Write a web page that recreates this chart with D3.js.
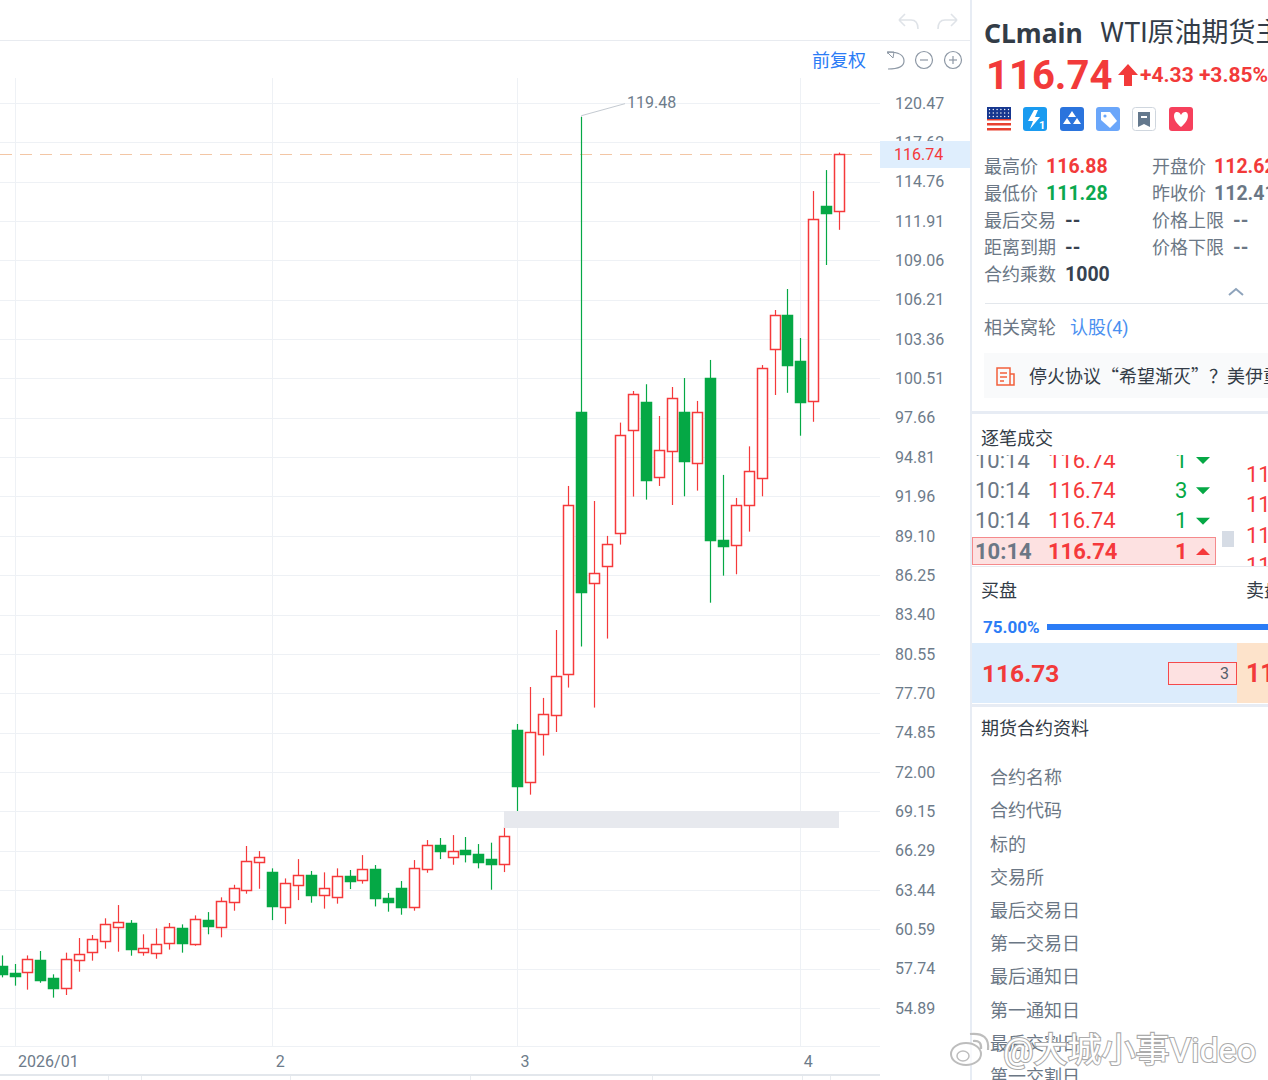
<!DOCTYPE html>
<html>
<head>
<meta charset="utf-8">
<script src="https://cdn.jsdelivr.net/npm/d3@7"></script>
<style>
  html, body { margin: 0; padding: 0; background: #fff; overflow: hidden; }
  svg { display: block; font-family: Roboto, "Noto Sans CJK SC", sans-serif; }
  svg text { font-family: Roboto, "Noto Sans CJK SC", sans-serif; }
</style>
</head>
<body>
<div id="chart"></div>
<script>
// Daily candles, oldest first
var opens = [57.96,57.40,57.47,58.37,57.06,56.39,58.41,58.95,59.72,60.76,61.05,58.95,58.90,59.55,60.71,59.57,61.24,60.76,62.54,63.49,65.47,
  64.72,62.23,63.78,64.53,63.05,62.96,64.45,64.14,64.96,62.83,63.56,62.16,64.94,66.72,65.88,66.34,66.07,65.68,65.32,
  75.04,71.24,74.75,76.12,79.07,98.06,85.71,86.87,89.29,96.73,98.81,93.40,95.23,98.08,94.43,100.54,88.78,88.44,91.37,93.27,102.59,105.10,101.77,98.92,113.00,112.62];
var highs = [58.70,58.08,58.70,59.02,57.33,58.90,59.96,60.18,61.39,62.35,61.26,60.23,60.66,61.05,60.95,61.60,61.84,62.91,63.82,66.63,66.26,
  65.01,64.28,65.68,64.82,64.72,65.01,64.89,65.97,65.25,63.22,64.09,65.61,67.06,67.21,67.42,67.28,66.77,66.87,68.00,
  75.47,78.15,77.36,82.28,92.72,119.48,91.63,89.10,97.31,99.60,100.09,97.79,99.89,100.54,98.88,101.85,93.52,91.85,95.59,101.48,105.47,106.99,103.44,114.09,115.61,116.88];
var lows = [57.11,56.51,56.22,56.72,55.64,55.83,57.52,58.32,59.19,58.97,58.68,58.68,58.46,59.12,58.90,59.40,60.23,60.01,61.94,63.17,63.53,
  61.26,60.97,62.71,62.52,62.09,62.45,63.51,63.90,62.25,61.87,61.65,61.94,64.69,65.68,65.27,65.44,65.01,63.46,64.74,
  69.05,70.35,73.18,74.89,78.11,81.08,76.66,81.66,88.47,91.95,91.73,92.72,91.34,91.97,92.38,84.26,86.22,86.32,89.41,91.97,99.31,99.47,96.36,97.37,108.73,111.28];
var closes = [57.35,57.16,58.44,56.89,56.36,58.46,58.82,59.91,60.95,61.10,59.16,59.26,59.55,60.73,59.60,61.36,60.78,62.64,63.58,65.56,65.81,
  62.25,63.97,64.50,63.10,63.58,64.45,64.11,64.96,62.88,62.52,62.16,65.01,66.70,66.29,66.29,66.07,65.49,65.35,67.38,
  70.98,74.87,76.20,78.93,91.32,85.04,86.44,88.49,96.41,99.36,93.18,95.35,99.10,94.55,98.11,88.78,88.32,91.32,93.83,101.27,105.08,101.50,98.82,112.08,112.52,116.74];

var priceTicks = [120.47,117.62,114.76,111.91,109.06,106.21,103.36,100.51,97.66,94.81,91.96,89.10,86.25,83.40,80.55,77.70,74.85,72.00,69.15,66.29,63.44,60.59,57.74,54.89];
var dateIndexes = [1, 21, 40, 62];
var dateLabels = ["2026/01", "2", "3", "4"];
var lastPrice = 116.74;
var maxPrice = 119.48;

// Right hand panel texts
var infoLeftLabels = ["最高价", "最低价", "最后交易", "距离到期", "合约乘数"];
var infoLeftValues = ["116.88", "111.28", "--", "--", "1000"];
var infoLeftColors = ["#f23a3a", "#0aa84f", "#37424f", "#37424f", "#37424f"];
var infoRightLabels = ["开盘价", "昨收价", "价格上限", "价格下限"];
var infoRightValues = ["112.62", "112.41", "--", "--"];
var infoRightColors = ["#f23a3a", "#6b7785", "#6b7785", "#6b7785"];
var tradeTimes = ["10:14", "10:14", "10:14", "10:14"];
var tradePrices = ["116.74", "116.74", "116.74", "116.74"];
var tradeSizes = ["1", "3", "1", "1"];
var contractLabels = ["合约名称", "合约代码", "标的", "交易所", "最后交易日", "第一交易日", "最后通知日", "第一通知日", "最后交割日", "第一交割日"];

var red = "#f5393b", green = "#05a845", gridColor = "#eef1f5", axisGray = "#6d7b8a", panelGray = "#6b7785", dark = "#333c47", blue = "#2b7cf6", band = "#e7ecf4";

var svg = d3.select("#chart").append("svg").attr("width", 1268).attr("height", 1080);

var x = d3.scaleLinear().domain([0, 65]).range([1.7, 839]);
var y = d3.scaleLinear().domain([54.89, 120.47]).range([1008, 103]);

function txt(g, px, py, str, size, color, weight, anchor) {
  return g.append("text").attr("x", px).attr("y", py).attr("dy", size === 18 ? "0.4em" : "0.35em")
    .attr("font-size", size).attr("fill", color)
    .attr("font-weight", weight || 400).attr("text-anchor", anchor || "start").text(str);
}
function snap(v) { return Math.round(v) + 0.5; }

// Toolbar above the chart
var bar = svg.append("g");
bar.append("line").attr("x1", 0).attr("x2", 970).attr("y1", 40.5).attr("y2", 40.5).attr("stroke", "#e8ebf0");
[[908, 1], [948, -1]].forEach(([cx, dir]) => {
  bar.append("path").attr("transform", "translate(" + cx + ",21) scale(" + dir + ",1)")
    .attr("d", "M-9,-1 L-3,-7 M-9,-1 L-3,5 M-9,-1 H3 Q10,-1 10,8")
    .attr("fill", "none").attr("stroke", "#dfe3e8").attr("stroke-width", 1.6);
});
txt(bar, 812, 60, "前复权", 18, "#2b7cf6");
bar.append("path").attr("d", "M888,54 L888,52 Q904,52 904,61 Q904,69 888,69").attr("fill", "none").attr("stroke", "#8d98a5").attr("stroke-width", 1.2);
bar.append("path").attr("d", "M887,52 L894,52 L893,58 Z").attr("fill", "none").attr("stroke", "#8d98a5");
[924, 953].forEach((cx) => {
  bar.append("circle").attr("cx", cx).attr("cy", 60).attr("r", 8.5).attr("fill", "none").attr("stroke", "#8d98a5").attr("stroke-width", 1.2);
  bar.append("line").attr("x1", cx - 4).attr("x2", cx + 4).attr("y1", 60).attr("y2", 60).attr("stroke", "#8d98a5").attr("stroke-width", 1.2);
});
bar.append("line").attr("x1", 953).attr("x2", 953).attr("y1", 56).attr("y2", 64).attr("stroke", "#8d98a5").attr("stroke-width", 1.2);

// Grid
var grid = svg.append("g");
grid.selectAll(".h").data(priceTicks).enter().append("line")
  .attr("x1", 0).attr("x2", 880).attr("y1", (d) => snap(y(d))).attr("y2", (d) => snap(y(d)))
  .attr("stroke", gridColor);
grid.selectAll(".v").data(dateIndexes).enter().append("line")
  .attr("x1", (d) => snap(x(d))).attr("x2", (d) => snap(x(d))).attr("y1", 78).attr("y2", 1046)
  .attr("stroke", gridColor);
grid.append("line").attr("x1", 0).attr("x2", 880).attr("y1", 1046.5).attr("y2", 1046.5).attr("stroke", gridColor);

// Price axis
var yAxis = svg.append("g").attr("transform", "translate(880,0)")
  .call(d3.axisRight(y).tickValues(priceTicks).tickFormat(d3.format(".2f")).tickSize(0).tickPadding(15));
yAxis.select(".domain").remove();
yAxis.selectAll("text").attr("font-size", 16).attr("fill", axisGray);

// Date axis
var xAxis = svg.append("g").attr("transform", "translate(0,1046)")
  .call(d3.axisBottom(x).tickValues(dateIndexes).tickFormat((d, i) => dateLabels[i]).tickSize(0).tickPadding(10));
xAxis.select(".domain").remove();
xAxis.selectAll("text").attr("font-size", 16).attr("fill", axisGray).attr("text-anchor", "start").attr("x", 3);
svg.append("rect").attr("x", 0).attr("y", 1074).attr("width", 880).attr("height", 2).attr("fill", "#e3e7ec");
[108, 141, 290, 470, 652, 802, 830].forEach((d) => {
  svg.append("line").attr("x1", d + 0.5).attr("x2", d + 0.5).attr("y1", 1076).attr("y2", 1080).attr("stroke", "#e9ecf0");
});

// Last price line
svg.append("line").attr("x1", 0).attr("x2", 880).attr("y1", snap(y(lastPrice))).attr("y2", snap(y(lastPrice)))
  .attr("stroke", "#f3c6a5").attr("stroke-width", 1).attr("stroke-dasharray", "12,8");

// Candles
var candles = svg.append("g").selectAll("g").data(d3.range(opens.length)).enter().append("g");
var isUp = (i) => closes[i] >= opens[i];
candles.append("line")
  .attr("x1", (i) => snap(x(i))).attr("x2", (i) => snap(x(i)))
  .attr("y1", (i) => y(highs[i])).attr("y2", (i) => y(lows[i]))
  .attr("stroke", (i) => isUp(i) ? red : green).attr("stroke-width", 1.2);
candles.append("rect")
  .attr("x", (i) => snap(x(i)) - 5).attr("width", 10)
  .attr("y", (i) => Math.round(y(Math.max(opens[i], closes[i]))) + 0.5)
  .attr("height", (i) => Math.max(1, Math.round(Math.abs(y(opens[i]) - y(closes[i])))))
  .attr("fill", (i) => isUp(i) ? "#fff" : green)
  .attr("stroke", (i) => isUp(i) ? red : green).attr("stroke-width", 1.5);

// Leader line of the highest price
var peak = highs.indexOf(maxPrice);
svg.append("path")
  .attr("d", d3.line()([[snap(x(peak)), y(maxPrice)], [snap(x(peak)), y(maxPrice) - 1], [625, y(maxPrice) - 13]]))
  .attr("fill", "none").attr("stroke", "#c4cad1");
txt(svg, 627, y(maxPrice) - 14, d3.format(".2f")(maxPrice), 16, axisGray);

// Grey strip over the candles
svg.append("rect").attr("x", 504).attr("y", 811).attr("width", 335).attr("height", 17).attr("fill", "#e7e9ee");

// Last price tag
svg.append("rect").attr("x", 880).attr("y", 141).attr("width", 91).attr("height", 27).attr("fill", "#dfeefd");
txt(svg, 894, y(lastPrice), d3.format(".2f")(lastPrice), 16, red);

// Panel
var panel = svg.append("g");
svg.append("defs").append("clipPath").attr("id", "tradeClip").append("rect")
  .attr("x", 972).attr("y", 455).attr("width", 296).attr("height", 111);
panel.append("rect").attr("x", 970).attr("y", 0).attr("width", 2).attr("height", 1080).attr("fill", band);

txt(panel, 984, 34, "CLmain", 26.5, dark, 700).style("font-family", "'Noto Sans', sans-serif");
txt(panel, 1100, 33, "WTI原油期货主连", 27, dark);
txt(panel, 986, 75, "116.74", 40, "#f23a3a", 700);
panel.append("path").attr("d", "M1128,64 L1138,75 H1132 V86 H1124 V75 H1118 Z").attr("fill", "#f23a3a");
txt(panel, 1140, 75, "+4.33 +3.85%", 21, "#f23a3a", 700);

// Icon row
panel.append("rect").attr("x", 987).attr("y", 107).attr("width", 24).attr("height", 24).attr("fill", "#fff");
d3.range(5).forEach((i) => {
  panel.append("rect").attr("x", 987).attr("y", 108 + i * 5).attr("width", 24).attr("height", 2.5).attr("fill", "#e8402f");
});
panel.append("rect").attr("x", 987).attr("y", 107).attr("width", 24).attr("height", 12).attr("fill", "#17378f");
d3.range(3).forEach((r) => {
  d3.range(6).forEach((c) => {
    panel.append("circle").attr("cx", 989.5 + c * 3.8).attr("cy", 109.5 + r * 3.5).attr("r", 0.7).attr("fill", "#fff");
  });
});
var tile = (px, color) => panel.append("rect").attr("x", px).attr("y", 107).attr("width", 24).attr("height", 24).attr("rx", 3).attr("fill", color);
tile(1023, "#1a9bf0");
panel.append("path").attr("d", "M1034,110 L1028,121 H1033 L1030,129 L1040,117 H1035 L1038,110 Z").attr("fill", "#fff");
txt(panel, 1039, 125, "1", 11, "#fff", 700);
tile(1060, "#2b74dd");
panel.append("path").attr("d", "M1072,111 l4,6 h-8 Z M1067,118 l4,6 h-8 Z M1077,118 l4,6 h-8 Z").attr("fill", "#fff");
tile(1096, "#6aa6fa");
panel.append("path").attr("d", "M1101,112 h9 l7,9 l-7,7 l-9,-8 Z").attr("fill", "#fff");
panel.append("circle").attr("cx", 1105).attr("cy", 116).attr("r", 1.6).attr("fill", "#6aa6fa");
panel.append("rect").attr("x", 1132.5).attr("y", 107.5).attr("width", 23).attr("height", 23).attr("rx", 3).attr("fill", "#fff").attr("stroke", "#cfd6de");
panel.append("path").attr("d", "M1138,112 h12 v15 l-6,-3 l-6,3 Z").attr("fill", "#64788d");
panel.append("rect").attr("x", 1141).attr("y", 116).attr("width", 6).attr("height", 2).attr("fill", "#fff");
tile(1169, "#f6405c");
panel.append("path").attr("d", "M1181,127 C1172,120 1173,112 1177,112 C1179,112 1180,113 1181,115 C1182,113 1183,112 1185,112 C1189,112 1190,120 1181,127 Z").attr("fill", "#fff");

// Info rows
var rowY = d3.scalePoint().domain(d3.range(5)).range([166, 274]);
infoLeftLabels.forEach((d, i) => {
  txt(panel, 984, rowY(i), d, 18, panelGray);
  txt(panel, i < 2 ? 1046 : 1065, rowY(i), infoLeftValues[i], 19.5, infoLeftColors[i], 700);
});
infoRightLabels.forEach((d, i) => {
  txt(panel, 1152, rowY(i), d, 18, panelGray);
  txt(panel, i < 2 ? 1214 : 1233, rowY(i), infoRightValues[i], 19.5, infoRightColors[i], 700);
});
panel.append("path").attr("d", "M1229,295 L1236,289 L1243,295").attr("fill", "none").attr("stroke", "#8ea3bb").attr("stroke-width", 2);
panel.append("line").attr("x1", 985).attr("x2", 1268).attr("y1", 303.5).attr("y2", 303.5).attr("stroke", "#e3e7ec");
txt(panel, 984, 327, "相关窝轮", 18, panelGray);
txt(panel, 1070, 327, "认股(4)", 18, "#4a90f0");

// News strip
panel.append("rect").attr("x", 984).attr("y", 353).attr("width", 284).attr("height", 45).attr("fill", "#f9fafb");
panel.append("path").attr("d", "M997,368 h13 v17 h-13 Z M1000,373 h7 M1000,377 h7 M1000,381 h4 M1010,374 h4 v11 h-4").attr("fill", "none").attr("stroke", "#f2603c").attr("stroke-width", 1.5);
txt(panel, 1029, 376, "停火协议“希望渐灭”？美伊重", 18, dark).style("font-family", "'Noto Sans CJK SC', sans-serif");

panel.append("rect").attr("x", 972).attr("y", 411).attr("width", 296).attr("height", 3).attr("fill", band);

// Trades
txt(panel, 981, 438, "逐笔成交", 18, dark);
var tape = panel.append("g").attr("clip-path", "url(#tradeClip)");
tape.append("rect").attr("x", 972.5).attr("y", 537.5).attr("width", 243).attr("height", 27).attr("fill", "#fde1e1").attr("stroke", "#f58a8c");
var tapeY = d3.scalePoint().domain(d3.range(4)).range([460, 551]);
tradeTimes.forEach((d, i) => {
  var last = i === 3;
  txt(tape, 975, tapeY(i), d, 22, panelGray, last ? 700 : 400);
  txt(tape, 1048, tapeY(i), tradePrices[i], 22, red, last ? 700 : 400);
  txt(tape, 1175, tapeY(i), tradeSizes[i], 22, last ? red : green, last ? 700 : 400);
  tape.append("path")
    .attr("d", last ? "M1196,555 h14 l-7,-7 Z" : "M1196," + (tapeY(i) - 3) + " h14 l-7,7 Z")
    .attr("fill", last ? red : green);
  txt(tape, 1246, 474 + i * 30.5, "116.75", 22, red);
});
panel.append("rect").attr("x", 1222).attr("y", 531).attr("width", 12).attr("height", 16).attr("fill", "#d6dce5");
panel.append("line").attr("x1", 972).attr("x2", 1268).attr("y1", 566.5).attr("y2", 566.5).attr("stroke", "#e6e9ee");

// Order book
txt(panel, 981, 590, "买盘", 18, dark);
txt(panel, 1246, 590, "卖盘", 18, dark);
txt(panel, 983, 627, "75.00%", 17, blue, 700);
panel.append("rect").attr("x", 1047).attr("y", 624).attr("width", 221).attr("height", 6).attr("fill", blue);
panel.append("rect").attr("x", 972).attr("y", 643).attr("width", 265).attr("height", 60).attr("fill", "#dcecfc");
panel.append("rect").attr("x", 1237).attr("y", 643).attr("width", 31).attr("height", 60).attr("fill", "#fde3cb");
txt(panel, 982, 673, "116.73", 24.5, "#f23a3a", 700);
panel.append("rect").attr("x", 1168.5).attr("y", 662.5).attr("width", 68).attr("height", 22).attr("fill", "#fde1e1").attr("stroke", "#f5494b");
txt(panel, 1229, 673, "3", 16, "#555f6b", 400, "end");
txt(panel, 1246, 673, "116.74", 25, "#f23a3a", 700);
panel.append("rect").attr("x", 972).attr("y", 704).attr("width", 296).attr("height", 3).attr("fill", band);

// Contract details
txt(panel, 981, 728, "期货合约资料", 18, dark);
contractLabels.forEach((d, i) => {
  txt(panel, 990, 777 + i * 33.2, d, 18, panelGray);
});

// Watermark
var mark = svg.append("g");
mark.append("ellipse").attr("cx", 966).attr("cy", 1054).attr("rx", 15).attr("ry", 11).attr("fill", "#fff").attr("fill-opacity", 0.7).attr("stroke", "#bdbdbd").attr("stroke-width", 2);
mark.append("ellipse").attr("cx", 963).attr("cy", 1056).attr("rx", 6).attr("ry", 5).attr("fill", "none").attr("stroke", "#bdbdbd").attr("stroke-width", 1.5);
mark.append("path").attr("d", "M970,1034 Q990,1032 988,1050 M973,1041 Q982,1040 981,1049").attr("fill", "none").attr("stroke", "#bdbdbd").attr("stroke-width", 2.2);
txt(mark, 1003, 1050, "@大城小事Video", 34, "#fff", 400)
  .attr("stroke", "#ababab").attr("stroke-width", 2.2).attr("paint-order", "stroke");
</script>
</body>
</html>
